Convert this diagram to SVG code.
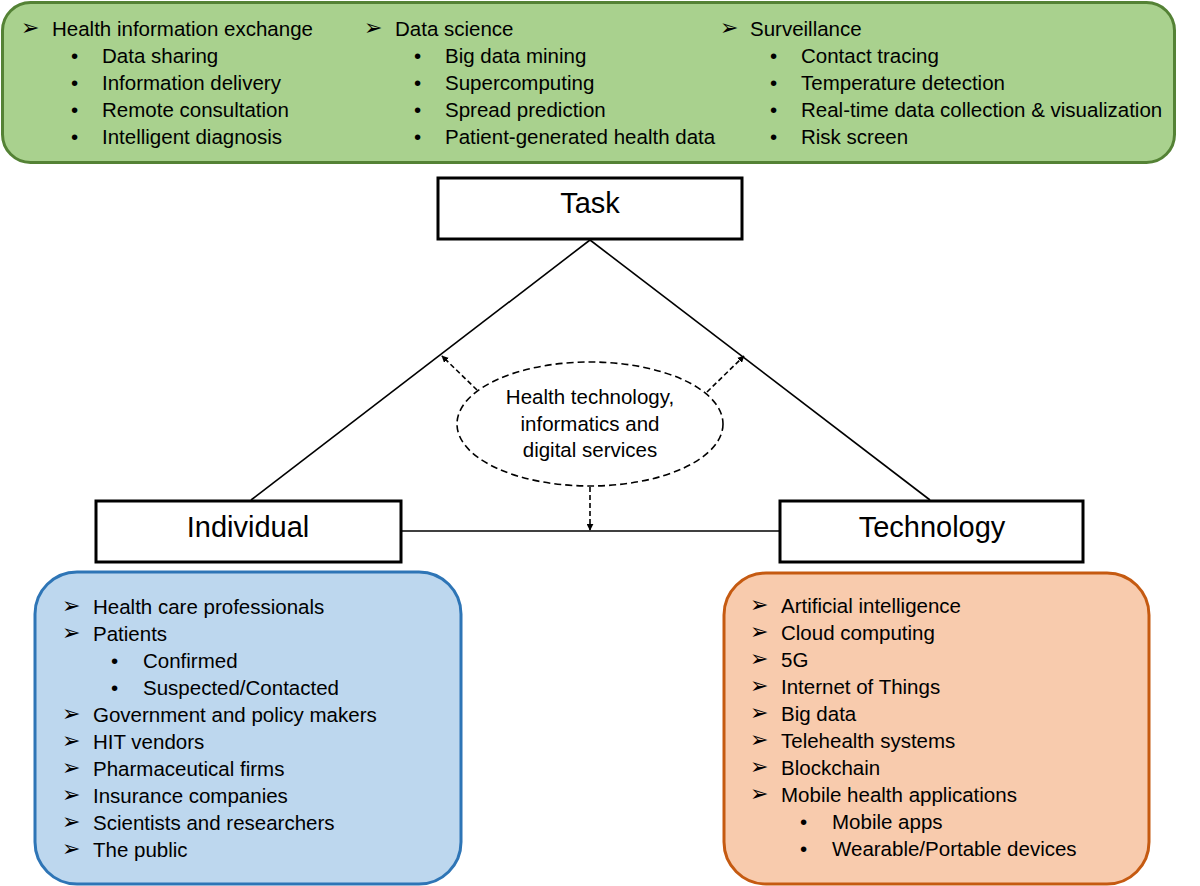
<svg xmlns="http://www.w3.org/2000/svg" width="1200" height="886" viewBox="0 0 1200 886">
<defs>
<style>
text{font-family:"Liberation Sans",Arial,sans-serif;fill:#000;}
.t{font-size:20.5px;}
.big{font-size:29px;}
.ar{font-family:"DejaVu Sans",sans-serif;font-size:22px;}
.node{fill:#fff;stroke:#000;stroke-width:3;}
.link{stroke:#000;stroke-width:1.6;fill:none;}
.dash{stroke:#000;stroke-width:1.6;fill:none;stroke-dasharray:5 3;}
</style>
<marker id="ah" viewBox="0 0 10 10" refX="9" refY="5" markerWidth="7" markerHeight="7" orient="auto" markerUnits="userSpaceOnUse">
<path d="M0,0 L10,5 L0,10 z" fill="#000"/>
</marker>
</defs>
<rect width="1200" height="886" fill="#fff"/>

<g id="task-list">
<rect x="2.5" y="2.5" width="1172" height="160" rx="28" fill="#a9d18e" stroke="#548235" stroke-width="3"/>
<text class="ar" x="21" y="35">➢</text>
<text class="t" x="52" y="36">Health information exchange</text>
<text class="t" x="71" y="63">•</text><text class="t" x="102" y="63">Data sharing</text>
<text class="t" x="71" y="90">•</text><text class="t" x="102" y="90">Information delivery</text>
<text class="t" x="71" y="117">•</text><text class="t" x="102" y="117">Remote consultation</text>
<text class="t" x="71" y="144">•</text><text class="t" x="102" y="144">Intelligent diagnosis</text>

<text class="ar" x="364" y="35">➢</text>
<text class="t" x="395" y="36">Data science</text>
<text class="t" x="414" y="63">•</text><text class="t" x="445" y="63">Big data mining</text>
<text class="t" x="414" y="90">•</text><text class="t" x="445" y="90">Supercomputing</text>
<text class="t" x="414" y="117">•</text><text class="t" x="445" y="117">Spread prediction</text>
<text class="t" x="414" y="144">•</text><text class="t" x="445" y="144">Patient-generated health data</text>

<text class="ar" x="720" y="35">➢</text>
<text class="t" x="750" y="36">Surveillance</text>
<text class="t" x="770" y="63">•</text><text class="t" x="801" y="63">Contact tracing</text>
<text class="t" x="770" y="90">•</text><text class="t" x="801" y="90">Temperature detection</text>
<text class="t" x="770" y="117">•</text><text class="t" x="801" y="117">Real-time data collection &amp; visualization</text>
<text class="t" x="770" y="144">•</text><text class="t" x="801" y="144">Risk screen</text>
</g>

<g id="connectors">
<line class="link" x1="590" y1="240" x2="251" y2="500"/>
<line class="link" x1="590" y1="240" x2="930" y2="500"/>
<line class="link" x1="401" y1="531" x2="780" y2="531"/>
<line class="dash" x1="477" y1="390" x2="442" y2="356" marker-end="url(#ah)"/>
<line class="dash" x1="707" y1="392" x2="744" y2="356" marker-end="url(#ah)"/>
<line class="dash" x1="590" y1="487" x2="590" y2="530" marker-end="url(#ah)"/>
</g>

<g id="task">
<rect class="node" x="438" y="178" width="304" height="61"/>
<text class="big" x="590" y="213" text-anchor="middle">Task</text>
</g>

<g id="individual">
<rect class="node" x="96" y="501" width="305" height="61"/>
<text class="big" x="248" y="537" text-anchor="middle">Individual</text>
</g>

<g id="technology">
<rect class="node" x="780" y="501" width="303" height="61"/>
<text class="big" x="932" y="537" text-anchor="middle">Technology</text>
</g>

<g id="hti">
<ellipse cx="590" cy="424" rx="133" ry="62" fill="#fff" stroke="#000" stroke-width="1.6" stroke-dasharray="7 4"/>
<text class="t" x="590" y="404" text-anchor="middle">Health technology,</text>
<text class="t" x="590" y="431" text-anchor="middle">informatics and</text>
<text class="t" x="590" y="457" text-anchor="middle">digital services</text>
</g>

<g id="individual-list">
<rect x="35" y="572" width="426" height="312" rx="42" fill="#bdd7ee" stroke="#2e75b6" stroke-width="3"/>
<text class="ar" x="62" y="613">➢</text><text class="t" x="93" y="614">Health care professionals</text>
<text class="ar" x="62" y="640">➢</text><text class="t" x="93" y="641">Patients</text>
<text class="t" x="111" y="668">•</text><text class="t" x="143" y="668">Confirmed</text>
<text class="t" x="111" y="695">•</text><text class="t" x="143" y="695">Suspected/Contacted</text>
<text class="ar" x="62" y="721">➢</text><text class="t" x="93" y="722">Government and policy makers</text>
<text class="ar" x="62" y="748">➢</text><text class="t" x="93" y="749">HIT vendors</text>
<text class="ar" x="62" y="775">➢</text><text class="t" x="93" y="776">Pharmaceutical firms</text>
<text class="ar" x="62" y="802">➢</text><text class="t" x="93" y="803">Insurance companies</text>
<text class="ar" x="62" y="829">➢</text><text class="t" x="93" y="830">Scientists and researchers</text>
<text class="ar" x="62" y="856">➢</text><text class="t" x="93" y="857">The public</text>
</g>

<g id="technology-list">
<rect x="724" y="573" width="425" height="311" rx="42" fill="#f8cbad" stroke="#c55a11" stroke-width="3"/>
<text class="ar" x="750" y="612">➢</text><text class="t" x="781" y="613">Artificial intelligence</text>
<text class="ar" x="750" y="639">➢</text><text class="t" x="781" y="640">Cloud computing</text>
<text class="ar" x="750" y="666">➢</text><text class="t" x="781" y="667">5G</text>
<text class="ar" x="750" y="693">➢</text><text class="t" x="781" y="694">Internet of Things</text>
<text class="ar" x="750" y="720">➢</text><text class="t" x="781" y="721">Big data</text>
<text class="ar" x="750" y="747">➢</text><text class="t" x="781" y="748">Telehealth systems</text>
<text class="ar" x="750" y="774">➢</text><text class="t" x="781" y="775">Blockchain</text>
<text class="ar" x="750" y="801">➢</text><text class="t" x="781" y="802">Mobile health applications</text>
<text class="t" x="800" y="829">•</text><text class="t" x="832" y="829">Mobile apps</text>
<text class="t" x="800" y="856">•</text><text class="t" x="832" y="856">Wearable/Portable devices</text>
</g>
</svg>
